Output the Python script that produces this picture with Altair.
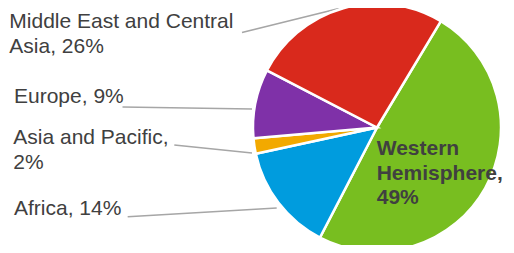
import math
import altair as alt
import pandas as pd

# ---- data ----
regions = ["Western Hemisphere", "Africa", "Asia and Pacific", "Europe",
           "Middle East and Central Asia"]
shares = [49, 14, 2, 9, 26]
colors = ["#78BE20", "#009CDE", "#F2A900", "#7F31A8", "#D9291C"]
label_texts = ["Western\nHemisphere,\n49%", "Africa, 14%", "Asia and Pacific,\n2%",
               "Europe, 9%", "Middle East and Central\nAsia, 26%"]

# ---- layout (pixel positions of annotations) ----
label_x = [368.7, 6, 5.3, 6, 1.3]
label_y = [147, 207, 136, 95, 20]
leader_x = [None, 119.7, 166.3, 114.5, 234]
leader_y = [None, 208.7, 137, 99, 24.5]
leader_x2 = [None, 268.7, 244, 244, 333]
leader_y2 = [None, 200, 145, 101, 0]

W, H = 498, 237
CX, CY, R = 369, 119.5, 124
START = math.radians(31)
FONT = "Liberation Sans"
TXT = "#404040"

df = pd.DataFrame({"region": regions, "share": shares, "idx": range(len(regions))})

pie = alt.Chart(df).mark_arc(radius=R, stroke="white", strokeWidth=2.5).encode(
    theta=alt.Theta("share:Q", stack=True,
                    scale=alt.Scale(range=[START, START + 2 * math.pi])),
    color=alt.Color("region:N", scale=alt.Scale(domain=regions, range=colors), legend=None),
    order=alt.Order("idx:Q"),
    x=alt.value(CX),
    y=alt.value(CY),
)

lab = pd.DataFrame({"text": label_texts, "lx": label_x, "ly": label_y,
                    "bold": [True, False, False, False, False]})

outer_labels = alt.Chart(lab[~lab["bold"]]).mark_text(
    align="left", baseline="alphabetic", font=FONT, fontSize=21, color=TXT,
    lineBreak="\n", lineHeight=25,
).encode(
    x=alt.X("lx:Q", scale=None, axis=None),
    y=alt.Y("ly:Q", scale=None, axis=None),
    text="text:N",
)

inner_label = alt.Chart(lab[lab["bold"]]).mark_text(
    align="left", baseline="alphabetic", font=FONT, fontSize=21, fontWeight="bold",
    color=TXT, lineBreak="\n", lineHeight=24.5,
).encode(
    x=alt.X("lx:Q", scale=None, axis=None),
    y=alt.Y("ly:Q", scale=None, axis=None),
    text="text:N",
)

lead = pd.DataFrame({"x": leader_x, "y": leader_y, "x2": leader_x2, "y2": leader_y2}).dropna()
leaders = alt.Chart(lead).mark_rule(color="#A6A6A6", strokeWidth=1.6).encode(
    x=alt.X("x:Q", scale=None, axis=None),
    y=alt.Y("y:Q", scale=None, axis=None),
    x2="x2:Q",
    y2="y2:Q",
)

chart = alt.layer(leaders, pie, outer_labels, inner_label).properties(
    width=W, height=H, padding=0,
    autosize=alt.AutoSizeParams(type="none"),
).configure_view(stroke=None)

chart.save("out.html", embed_options={"renderer": "svg", "actions": False})
